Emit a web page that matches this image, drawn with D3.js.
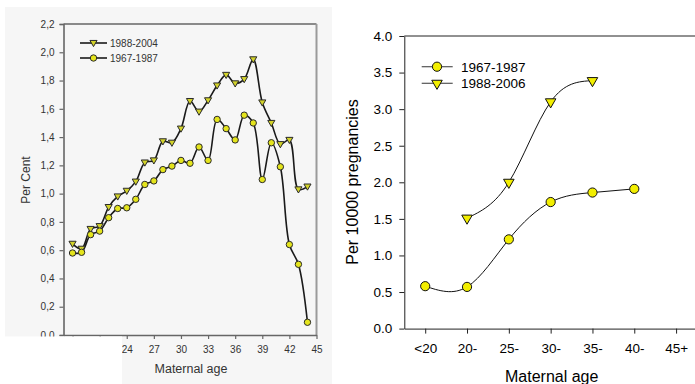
<!DOCTYPE html>
<html><head><meta charset="utf-8">
<script src="https://cdn.jsdelivr.net/npm/d3@7"></script>
<style>body{margin:0;background:#fff;}svg{display:block;font-family:"Liberation Sans",Arial,sans-serif;}</style>
</head><body>
<svg id="c" width="695" height="384"></svg>
<script>
// ---- Left chart data ----
const leftAges = [18,19,20,21,22,23,24,25,26,27,28,29,30,31,32,33,34,35,36,37,38,39,40,41,42,43,44];
const left1988 = [0.645,0.61,0.75,0.77,0.905,0.98,1.02,1.085,1.22,1.235,1.37,1.36,1.46,1.655,1.58,1.66,1.765,1.84,1.78,1.81,1.95,1.645,1.50,1.35,1.38,1.03,1.05];
const left1967 = [0.58,0.585,0.71,0.735,0.83,0.895,0.90,0.96,1.065,1.09,1.17,1.195,1.235,1.215,1.33,1.235,1.525,1.46,1.38,1.555,1.50,1.10,1.36,1.19,0.64,0.50,0.09];
const leftYTicks = [0,0.2,0.4,0.6,0.8,1.0,1.2,1.4,1.6,1.8,2.0,2.2];
const leftXTicks = [18,21,24,27,30,33,36,39,42,45];
const leftLegend = ["1988-2004","1967-1987"];

// ---- Right chart data ----
const rightCats = ["<20","20-","25-","30-","35-","40-","45+"];
const right1967Cats = ["<20","20-","25-","30-","35-","40-"];
const right1967 = [0.58,0.57,1.22,1.73,1.86,1.91];
const right1988Cats = ["20-","25-","30-","35-"];
const right1988 = [1.51,2.0,3.1,3.39];
const rightYTicks = [0,0.5,1.0,1.5,2.0,2.5,3.0,3.5,4.0];
const rightLegend = ["1967-1987","1988-2006"];

const svg = d3.select("#c");

// ================= LEFT CHART =================
const L = svg.append("g");
L.append("rect").attr("x",5).attr("y",7).attr("width",327).attr("height",377).attr("fill","#f6f6f6");

const lx = d3.scaleLinear().domain([17,45]).range([63.5,316.5]);
const ly = d3.scaleLinear().domain([0,2.2]).range([335,24]);

// frame top/right
L.append("line").attr("x1",lx.range()[0]).attr("x2",lx.range()[1]).attr("y1",ly(2.2)).attr("y2",ly(2.2))
  .attr("stroke","#8a8a8a").attr("stroke-width",2);
L.append("line").attr("x1",lx.range()[1]).attr("x2",lx.range()[1]).attr("y1",ly(2.2)).attr("y2",ly(0))
  .attr("stroke","#9a9a9a").attr("stroke-width",2);

const lyAxis = L.append("g").attr("transform",`translate(${lx.range()[0]},0)`)
  .call(d3.axisLeft(ly).tickValues(leftYTicks).tickSize(4).tickPadding(5).tickFormat(d=>d3.format(".1f")(d).replace(".",",")));
lyAxis.select(".domain").attr("stroke","#666").attr("stroke-width",1.6);
lyAxis.selectAll(".tick line").attr("stroke","#666").attr("stroke-width",1.2);
lyAxis.selectAll("text").attr("font-size",10).attr("fill","#333");

const lxAxis = L.append("g").attr("transform",`translate(0,${ly(0)})`)
  .call(d3.axisBottom(lx).tickValues(leftXTicks).tickSize(4).tickPadding(7).tickSizeOuter(0));
lxAxis.select(".domain").attr("stroke","#666").attr("stroke-width",1.6);
lxAxis.selectAll(".tick line").attr("stroke","#666").attr("stroke-width",1.2);
lxAxis.selectAll("text").attr("font-size",10).attr("fill","#333");

const lline = d3.line().x(d=>lx(d[0])).y(d=>ly(d[1])).curve(d3.curveCatmullRom.alpha(0.5));
const s88 = leftAges.map((a,i)=>[a,left1988[i]]);
const s67 = leftAges.map((a,i)=>[a,left1967[i]]);
[s88,s67].forEach(s=>{
  L.append("path").attr("d",lline(s)).attr("fill","none").attr("stroke","#1a1a1a").attr("stroke-width",1.6);
});
const triL = d3.symbol().type(d3.symbolTriangle).size(22);
L.append("g").selectAll("path").data(s88).join("path").attr("d",triL)
  .attr("transform",d=>`translate(${lx(d[0])},${ly(d[1])-0.5}) rotate(180)`)
  .attr("fill","#d2d22a").attr("stroke","#2a2a2a").attr("stroke-width",1);
L.append("g").selectAll("circle").data(s67).join("circle")
  .attr("cx",d=>lx(d[0])).attr("cy",d=>ly(d[1])).attr("r",3.2)
  .attr("fill","#e4e41c").attr("stroke","#2a2a2a").attr("stroke-width",1);

// legend
const lleg = L.append("g");
leftLegend.forEach((t,i)=>{
  const y = 43 + i*15;
  lleg.append("line").attr("x1",80).attr("x2",107).attr("y1",y).attr("y2",y).attr("stroke","#1a1a1a").attr("stroke-width",1.6);
  if(i===0) lleg.append("path").attr("d",triL).attr("transform",`translate(93.5,${y-0.5}) rotate(180)`)
    .attr("fill","#d2d22a").attr("stroke","#2a2a2a");
  else lleg.append("circle").attr("cx",93.5).attr("cy",y).attr("r",3.2).attr("fill","#e4e41c").attr("stroke","#2a2a2a");
  lleg.append("text").attr("x",110).attr("y",y+3.6).attr("font-size",10).attr("fill","#333").text(t);
});

// white patch covering the lower-left part of the scanned panel
L.append("rect").attr("x",0).attr("y",336.5).attr("width",122).attr("height",48).attr("fill","#fff");

L.append("text").attr("transform","translate(29.5,180) rotate(-90)").attr("text-anchor","middle")
  .attr("font-size",12).attr("fill","#333").text("Per Cent");
L.append("text").attr("x",191).attr("y",373).attr("text-anchor","middle")
  .attr("font-size",12.5).attr("fill","#333").text("Maternal age");

// ================= RIGHT CHART =================
const R = svg.append("g");
const rx = d3.scalePoint().domain(rightCats).range([404.3,697]).padding(0.5);
const ry = d3.scaleLinear().domain([0,4]).range([328.6,36]);

R.append("line").attr("x1",404.3).attr("x2",697).attr("y1",ry(4)).attr("y2",ry(4)).attr("stroke","#222").attr("stroke-width",1);
R.append("line").attr("x1",697).attr("x2",697).attr("y1",ry(4)).attr("y2",ry(0)).attr("stroke","#222").attr("stroke-width",1);

const ryAxis = R.append("g").attr("transform","translate(404.3,0)")
  .call(d3.axisLeft(ry).tickValues(rightYTicks).tickSize(5).tickPadding(7).tickFormat(d3.format(".1f")).tickSizeOuter(0));
ryAxis.select(".domain").attr("stroke","#222");
ryAxis.selectAll(".tick line").attr("stroke","#222");
ryAxis.selectAll("text").attr("font-size",13.5).attr("fill","#000");

const rxAxis = R.append("g").attr("transform",`translate(0,${ry(0)})`)
  .call(d3.axisBottom(rx).tickSize(5).tickPadding(10).tickSizeOuter(0));
rxAxis.select(".domain").attr("stroke","#222");
rxAxis.selectAll(".tick line").attr("stroke","#222");
rxAxis.selectAll("text").attr("font-size",13.5).attr("fill","#000");

const rline = d3.line().x(d=>rx(d[0])).y(d=>ry(d[1])).curve(d3.curveNatural);
const r67 = right1967Cats.map((c,i)=>[c,right1967[i]]);
const r88 = right1988Cats.map((c,i)=>[c,right1988[i]]);
[r67,r88].forEach(s=>{
  R.append("path").attr("d",rline(s)).attr("fill","none").attr("stroke","#111").attr("stroke-width",1);
});
const triR = d3.symbol().type(d3.symbolTriangle).size(48);
R.append("g").selectAll("path").data(r88).join("path").attr("d",triR)
  .attr("transform",d=>`translate(${rx(d[0])},${ry(d[1])}) rotate(180)`)
  .attr("fill","#f2ee00").attr("stroke","#111").attr("stroke-width",1);
R.append("g").selectAll("circle").data(r67).join("circle")
  .attr("cx",d=>rx(d[0])).attr("cy",d=>ry(d[1])).attr("r",4.6)
  .attr("fill","#f2ee00").attr("stroke","#111").attr("stroke-width",1);

const rleg = R.append("g");
rightLegend.forEach((t,i)=>{
  const y = 66.7 + i*16.6;
  rleg.append("line").attr("x1",421.7).attr("x2",452.7).attr("y1",y).attr("y2",y).attr("stroke","#555").attr("stroke-width",1.2);
  if(i===0) rleg.append("circle").attr("cx",437).attr("cy",y).attr("r",4.6).attr("fill","#f2ee00").attr("stroke","#111");
  else rleg.append("path").attr("d",triR).attr("transform",`translate(437,${y}) rotate(180)`).attr("fill","#f2ee00").attr("stroke","#111");
  rleg.append("text").attr("x",461).attr("y",y+4.8).attr("font-size",13.5).attr("fill","#000").text(t);
});

R.append("text").attr("transform","translate(358,182) rotate(-90)").attr("text-anchor","middle")
  .attr("font-size",16).attr("fill","#000").text("Per 10000 pregnancies");
R.append("text").attr("x",551.7).attr("y",382).attr("text-anchor","middle")
  .attr("font-size",16).attr("fill","#000").text("Maternal age");
</script>
</body></html>
